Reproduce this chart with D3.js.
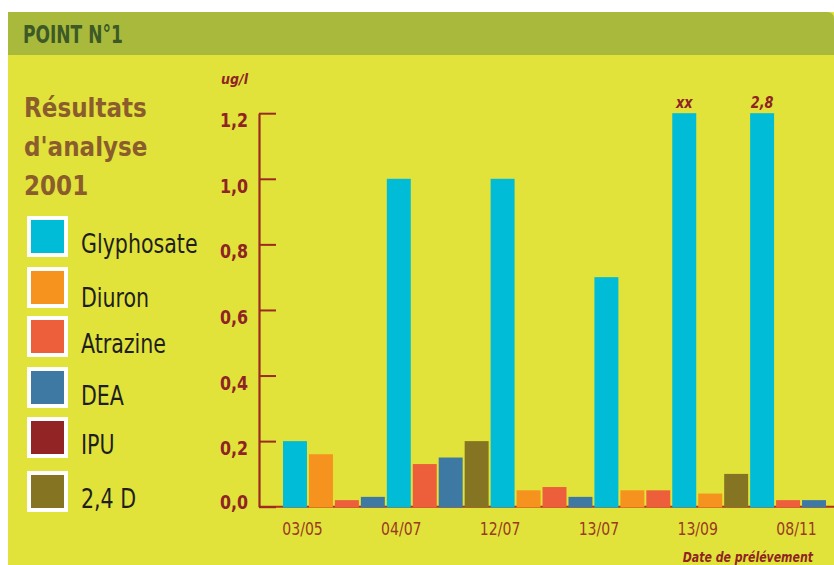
<!DOCTYPE html>
<html>
<head>
<meta charset="utf-8">
<script src="https://cdn.jsdelivr.net/npm/d3@7"></script>
<style>
  html, body { margin: 0; padding: 0; background: #ffffff; }
  svg { display: block; }
</style>
</head>
<body>
<script>
// Sampling dates (x axis)
const dates = ["03/05", "04/07", "12/07", "13/07", "13/09", "08/11"];

// Substances (legend order)
const substances = ["Glyphosate", "Diuron", "Atrazine", "DEA", "IPU", "2,4 D"];
const colors = ["#00bcd6", "#f6921e", "#ec5f3a", "#3e79a4", "#922425", "#857522"];

// Concentrations in ug/l per date (null = not detected)
const glyphosate = [0.2, 1.0, 1.0, 0.7, 1.2, 2.8];
const diuron     = [0.16, null, 0.05, 0.05, 0.04, null];
const atrazine   = [0.02, 0.13, 0.06, 0.05, null, 0.02];
const dea        = [0.03, 0.15, 0.03, null, null, 0.02];
const ipu        = [null, null, null, null, null, null];
const d24        = [null, 0.2, null, null, 0.1, null];

// Labels printed above bars that exceed the axis
const overLabels = [null, null, null, null, "xx", "2,8"];

const yTicks = [0, 0.2, 0.4, 0.6, 0.8, 1.0, 1.2];

const series = [glyphosate, diuron, atrazine, dea, ipu, d24];

// Flatten into consecutive bars: one per detected substance, date by date
const bars = [];
dates.forEach((d, i) => {
  series.forEach((s, k) => {
    if (s[i] !== null) bars.push({ date: d, di: i, sub: substances[k], k, value: s[i] });
  });
});

const W = 834, H = 565;
const svg = d3.select("body").append("svg").attr("width", W).attr("height", H);

const fontCond = "'DejaVu Sans Condensed', 'DejaVu Sans', sans-serif";
const axisColor = "#9a2a22";
const labelColor = "#8e2424";

// Narrow a text horizontally around its anchor point
function placeText(sel, x, y, sx) {
  sel.attr("transform", (d, i) => {
    const xx = typeof x === "function" ? x(d, i) : x;
    const yy = typeof y === "function" ? y(d, i) : y;
    return `translate(${xx},${yy}) scale(${sx},1)`;
  });
}

// Panel background
svg.append("rect").attr("x", 8).attr("y", 12).attr("width", W - 8).attr("height", H - 12).attr("fill", "#e2e33a");

// Header band with rounded top-right corner
svg.append("path")
  .attr("d", `M8,12 H${W - 7} Q${W},12 ${W},19 V55 H8 Z`)
  .attr("fill", "#a9b93c");
svg.append("text")
  .call(placeText, 23, 43, 0.79)
  .attr("font-family", fontCond).attr("font-weight", "bold").attr("font-size", 24)
  .attr("fill", "#3d5a26")
  .text("POINT N°1");

// Title block
const titleLines = ["Résultats", "d'analyse", "2001"];
svg.append("g").selectAll("text").data(titleLines).join("text")
  .call(placeText, 24, (d, i) => 116.5 + i * 39.3, 0.95)
  .attr("font-family", fontCond).attr("font-weight", "bold").attr("font-size", 27)
  .attr("fill", "#8b5d2d")
  .text(d => d);

// Legend
const legendTops = [216, 267, 316, 367, 417, 471];
const leg = svg.append("g").selectAll("g").data(substances).join("g")
  .attr("transform", (d, i) => `translate(27,${legendTops[i]})`);
leg.append("rect").attr("width", 41).attr("height", 41).attr("fill", "#ffffff");
leg.append("rect").attr("x", 4).attr("y", 4).attr("width", 33).attr("height", 33)
  .attr("fill", (d, i) => colors[i]);
const legendBaselines = [253, 306.5, 353, 405, 454, 508];
leg.append("text")
  .call(placeText, 54, (d, i) => legendBaselines[i] - legendTops[i], 0.88)
  .attr("font-family", fontCond).attr("font-size", 26)
  .attr("fill", "#1e1e1e")
  .text(d => d);

// Scales
const y = d3.scaleLinear().domain([0, 1.2]).range([506.7, 113.2]).clamp(true);
const x = d3.scaleBand().domain(d3.range(bars.length)).range([283, 826]).paddingInner(2 / 26).paddingOuter(0);
const xDate = d3.scalePoint().domain(dates).range([302, 796]);

// Baseline
svg.append("line")
  .attr("x1", 259).attr("x2", W).attr("y1", y(0)).attr("y2", y(0))
  .attr("stroke", "#b0301f").attr("stroke-width", 2);

// Y axis: line with ticks pointing right
const yAxisG = svg.append("g").attr("transform", "translate(259,0)")
  .call(d3.axisRight(y).tickValues(yTicks).tickSize(17).tickSizeOuter(0).tickFormat(""));
yAxisG.select(".domain").attr("stroke", axisColor).attr("stroke-width", 2.2);
yAxisG.selectAll(".tick line").attr("stroke", axisColor).attr("stroke-width", 2);

// Y tick labels
const yLabG = svg.append("g").attr("transform", "translate(248,0)")
  .call(d3.axisLeft(y).tickValues(yTicks).tickSize(0).tickPadding(0)
    .tickFormat(d => d3.format(".1f")(d).replace(".", ",")));
yLabG.select(".domain").remove();
yLabG.selectAll(".tick text")
  .attr("x", null).attr("dy", null)
  .call(placeText, 0, d => d === 0 ? 508 - y(0) : 13.5, 0.88)
  .attr("font-family", fontCond).attr("font-weight", "bold").attr("font-size", 20)
  .attr("fill", labelColor);

// Unit label
svg.append("text")
  .attr("x", 248).attr("y", 84).attr("text-anchor", "end")
  .attr("font-family", fontCond).attr("font-weight", "bold").attr("font-style", "italic").attr("font-size", 14)
  .attr("fill", labelColor)
  .text("ug/l");

// Bars
svg.append("g").selectAll("rect").data(bars).join("rect")
  .attr("x", (d, i) => x(i))
  .attr("width", x.bandwidth())
  .attr("y", d => y(d.value))
  .attr("height", d => y(0) + 0.8 - y(d.value))
  .attr("fill", d => colors[d.k]);

// Over-scale labels above clipped bars
const overBars = bars.filter(d => d.k === 0 && overLabels[d.di] !== null);
svg.append("g").selectAll("text").data(overBars).join("text")
  .call(placeText, d => x(bars.indexOf(d)) + x.bandwidth() / 2, 107.5, 0.95)
  .attr("text-anchor", "middle")
  .attr("font-family", fontCond).attr("font-weight", "bold").attr("font-style", "italic").attr("font-size", 15)
  .attr("fill", labelColor)
  .text(d => overLabels[d.di]);

// X axis labels
const xAxisG = svg.append("g").attr("transform", "translate(0,535)")
  .call(d3.axisBottom(xDate).tickSize(0).tickPadding(0));
xAxisG.select(".domain").remove();
xAxisG.selectAll(".tick text")
  .attr("y", null).attr("dy", null)
  .call(placeText, 0, 0, 0.92)
  .attr("font-family", fontCond).attr("font-size", 17)
  .attr("fill", "#9a3a22");

// X axis title
svg.append("text")
  .call(placeText, 813, 562, 0.87)
  .attr("text-anchor", "end")
  .attr("font-family", fontCond).attr("font-weight", "bold").attr("font-style", "italic").attr("font-size", 14)
  .attr("fill", labelColor)
  .text("Date de prélévement");
</script>
</body>
</html>
